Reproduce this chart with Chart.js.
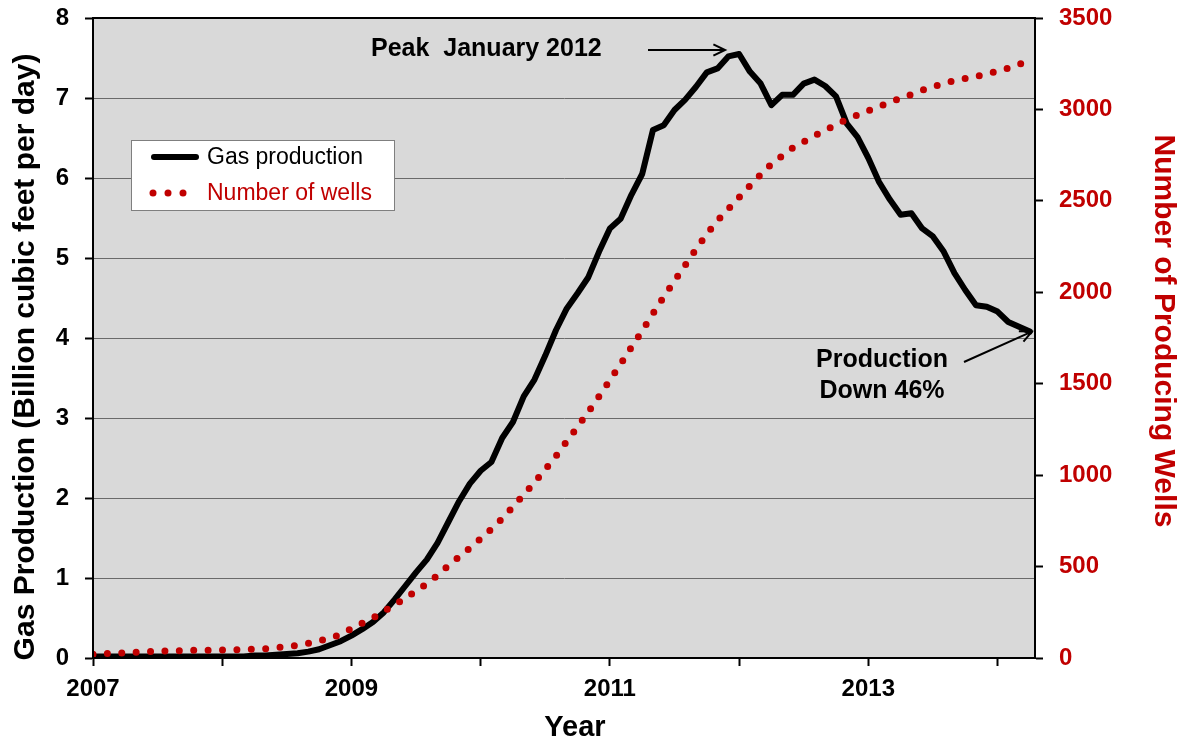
<!DOCTYPE html>
<html>
<head>
<meta charset="utf-8">
<script src="https://cdn.jsdelivr.net/npm/chart.js@4.4.1/dist/chart.umd.min.js"></script>
<style>
  html, body { margin: 0; padding: 0; background: #fff; }
  #wrap { width: 1182px; height: 742px; }
</style>
</head>
<body>
<div id="wrap"><canvas id="gasChart" width="1182" height="742"></canvas></div>
<script>
// monthly values, Jan 2007 .. Apr 2014
const startYear = 2007;
const gasProduction = [
  0.02, 0.02, 0.02, 0.02, 0.02, 0.02, 0.02, 0.02, 0.02, 0.02, 0.02, 0.02,
  0.02, 0.02, 0.02, 0.03, 0.03, 0.04, 0.05, 0.06, 0.08, 0.11, 0.16, 0.21,
  0.28, 0.36, 0.45, 0.57, 0.73, 0.90, 1.07, 1.23, 1.44, 1.70, 1.96, 2.18,
  2.34, 2.45, 2.75, 2.95, 3.27, 3.48, 3.78, 4.10, 4.37, 4.56, 4.76, 5.08,
  5.37, 5.49, 5.79, 6.05, 6.60, 6.66, 6.85, 6.98, 7.14, 7.32, 7.37, 7.52,
  7.55, 7.33, 7.18, 6.91, 7.04, 7.04, 7.18, 7.23, 7.15, 7.02, 6.68, 6.51,
  6.25, 5.95, 5.73, 5.54, 5.56, 5.37, 5.27, 5.08, 4.81, 4.60, 4.41, 4.39,
  4.33, 4.20, 4.14, 4.08
];
const producingWells = [
  20, 23, 26, 29, 32, 34, 37, 39, 40, 42, 43, 43,
  44, 44, 46, 48, 51, 56, 62, 69, 80, 93, 109, 128,
  161, 191, 220, 254, 290, 327, 367, 406, 452, 505, 553, 601,
  652, 705, 762, 827, 893, 960, 1031, 1105, 1185, 1264, 1346, 1431,
  1519, 1607, 1700, 1789, 1883, 1975, 2062, 2149, 2236, 2319, 2392, 2455,
  2519, 2583, 2643, 2702, 2746, 2790, 2823, 2856, 2886, 2917, 2946, 2969,
  2993, 3016, 3039, 3061, 3082, 3105, 3124, 3142, 3158, 3169, 3180, 3194,
  3209, 3226, 3247, 3268
];
const labelledYears = [2007, 2009, 2011, 2013];
const seriesNames = ['Gas production', 'Number of wells'];
const peakLabel = 'Peak  January 2012';
const endLabel = ['Production', 'Down 46%'];

const FONT = '"Liberation Sans", Arial, sans-serif';
const RED = '#c00000';
Chart.defaults.font.family = FONT;

const toPoints = vals => vals.map((v, i) => ({ x: startYear + i / 12, y: v }));

function arrow(ctx, x1, y1, x2, y2) {
  const a = Math.atan2(y2 - y1, x2 - x1);
  const h = 13;
  ctx.beginPath();
  ctx.moveTo(x1, y1);
  ctx.lineTo(x2, y2);
  ctx.moveTo(x2 - h * Math.cos(a - 0.45), y2 - h * Math.sin(a - 0.45));
  ctx.lineTo(x2, y2);
  ctx.lineTo(x2 - h * Math.cos(a + 0.45), y2 - h * Math.sin(a + 0.45));
  ctx.stroke();
}

// vertical axes: fixed width, no extra room for half labels
const fixWidth = w => s => { s.width = w; s.paddingTop = 0; s.paddingBottom = 0; };

const decorations = {
  id: 'decorations',
  beforeDraw(chart) {
    const { ctx, chartArea: a } = chart;
    ctx.save();
    ctx.fillStyle = '#d9d9d9';
    ctx.fillRect(a.left, a.top, a.right - a.left, a.bottom - a.top);
    ctx.restore();
  },
  afterDraw(chart) {
    const { ctx, chartArea: a, scales } = chart;
    ctx.save();
    // frame
    ctx.strokeStyle = '#000';
    ctx.lineWidth = 2;
    ctx.strokeRect(a.left, a.top, a.right - a.left, a.bottom - a.top);

    // legend box
    ctx.fillStyle = '#fff';
    ctx.fillRect(131, 140, 263, 70);
    ctx.strokeStyle = '#7f7f7f';
    ctx.lineWidth = 1;
    ctx.strokeRect(131.5, 140.5, 263, 70);
    ctx.strokeStyle = '#000';
    ctx.lineWidth = 6;
    ctx.lineCap = 'round';
    ctx.beginPath();
    ctx.moveTo(154, 157);
    ctx.lineTo(196, 157);
    ctx.stroke();
    ctx.fillStyle = RED;
    [153, 168, 183].forEach(x => {
      ctx.beginPath();
      ctx.arc(x, 193, 3.5, 0, Math.PI * 2);
      ctx.fill();
    });
    ctx.font = '23px ' + FONT;
    ctx.textAlign = 'left';
    ctx.textBaseline = 'alphabetic';
    ctx.fillStyle = '#000';
    ctx.fillText(seriesNames[0], 207, 164);
    ctx.fillStyle = RED;
    ctx.fillText(seriesNames[1], 207, 200);

    // annotations
    const x = scales.x, y = scales.y;
    const peakIdx = gasProduction.indexOf(Math.max(...gasProduction));
    const px = x.getPixelForValue(startYear + peakIdx / 12);
    const py = y.getPixelForValue(gasProduction[peakIdx]);
    const last = gasProduction.length - 1;
    const lx = x.getPixelForValue(startYear + last / 12);
    const ly = y.getPixelForValue(gasProduction[last]);

    ctx.fillStyle = '#000';
    ctx.font = 'bold 25px ' + FONT;
    ctx.fillText(peakLabel, 371, 56);
    ctx.textAlign = 'center';
    ctx.fillText(endLabel[0], 882, 367);
    ctx.fillText(endLabel[1], 882, 398);
    ctx.strokeStyle = '#000';
    ctx.lineWidth = 2;
    ctx.lineCap = 'butt';
    arrow(ctx, 648, py - 4, px - 14, py - 4);
    arrow(ctx, 964, 362, lx + 2, ly);

    // axis titles
    ctx.font = 'bold 30px ' + FONT;
    ctx.textBaseline = 'middle';
    ctx.save();
    ctx.translate(26, 357);
    ctx.rotate(-Math.PI / 2);
    ctx.fillStyle = '#000';
    ctx.fillText('Gas Production (Billion cubic feet per day)', 0, 0);
    ctx.restore();
    ctx.save();
    ctx.translate(1163, 331);
    ctx.rotate(Math.PI / 2);
    ctx.fillStyle = RED;
    ctx.fillText('Number of Producing Wells', 0, 0);
    ctx.restore();
    ctx.font = 'bold 29px ' + FONT;
    ctx.fillStyle = '#000';
    ctx.fillText('Year', 575, 728);
    ctx.restore();
  }
};

new Chart(document.getElementById('gasChart'), {
  type: 'line',
  data: {
    datasets: [
      {
        label: seriesNames[1],
        data: toPoints(producingWells),
        yAxisID: 'y1',
        borderColor: RED,
        borderWidth: 7,
        borderDash: [0, 14.4],
        borderCapStyle: 'round',
        pointRadius: 0,
        tension: 0,
        fill: false,
        order: 0
      },
      {
        label: seriesNames[0],
        data: toPoints(gasProduction),
        yAxisID: 'y',
        borderColor: '#000',
        borderWidth: 6,
        borderJoinStyle: 'round',
        borderCapStyle: 'round',
        pointRadius: 0,
        tension: 0,
        fill: false,
        order: 1
      }
    ]
  },
  options: {
    responsive: false,
    animation: false,
    devicePixelRatio: 1,
    layout: { padding: { top: 18, left: 0, right: 0, bottom: 0 } },
    plugins: { legend: { display: false }, tooltip: { enabled: false } },
    scales: {
      x: {
        type: 'linear',
        min: 2007,
        max: 2014.29,
        afterFit: s => { s.height = 84; },
        ticks: {
          stepSize: 1,
          includeBounds: false,
          autoSkip: false,
          maxRotation: 0,
          padding: 9,
          color: '#000',
          font: { size: 24, weight: 'bold' },
          callback: v => labelledYears.includes(v) ? String(v) : ''
        },
        grid: { drawOnChartArea: false, tickLength: 8, tickColor: '#000', tickWidth: 2 },
        border: { color: '#000', width: 2 }
      },
      y: {
        position: 'left',
        min: 0,
        max: 8,
        afterFit: fixWidth(93),
        ticks: {
          stepSize: 1,
          padding: 16,
          color: '#000',
          font: { size: 24, weight: 'bold' }
        },
        grid: { color: '#6a6a6a', lineWidth: 1, tickLength: 8, tickColor: '#000', tickWidth: 2 },
        border: { color: '#000', width: 2 }
      },
      y1: {
        position: 'right',
        min: 0,
        max: 3500,
        afterFit: fixWidth(147),
        ticks: {
          stepSize: 500,
          padding: 16,
          color: RED,
          font: { size: 24, weight: 'bold' },
          callback: v => String(v)
        },
        grid: { drawOnChartArea: false, tickLength: 8, tickColor: '#000', tickWidth: 2 },
        border: { color: '#000', width: 2 }
      }
    }
  },
  plugins: [decorations]
});
</script>
</body>
</html>
